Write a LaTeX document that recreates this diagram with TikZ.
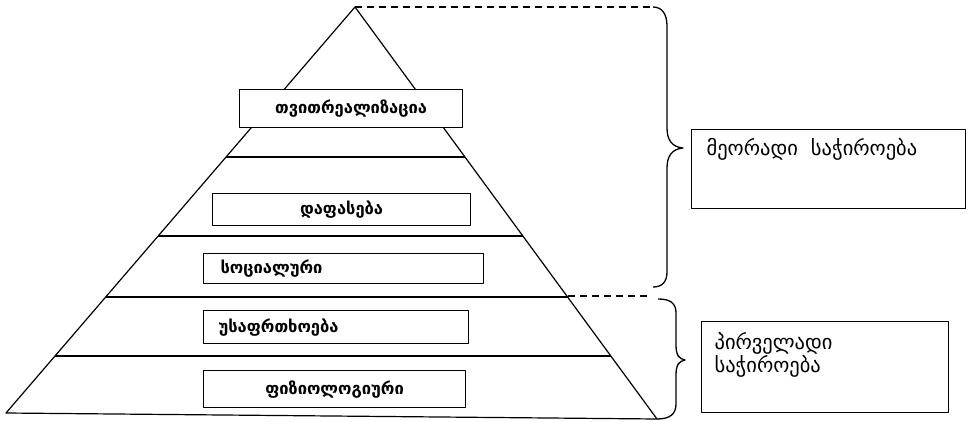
\documentclass[tikz,border=0pt]{standalone}
\usepackage{fontspec}
\newfontfamily\geo{DejaVu Sans}
\begin{document}
\begin{tikzpicture}[x=1pt,y=-1pt,
  line width=1.2pt, line join=round,
  boxin/.style={draw, rectangle, inner sep=0pt, anchor=north west},
  lbl/.style={font=\geo\bfseries\fontsize{16.5}{18}\selectfont, inner sep=0pt},
  rlbl/.style={font=\geo\fontsize{20.5}{19}\selectfont, inner sep=0pt, align=left},
  dsh/.style={dash pattern=on 7pt off 5pt, line width=1.2pt},
  brace/.style={line width=1.3pt}]
\useasboundingbox (0,0) rectangle (971,422);
% pyramid
\coordinate (apex) at (355,7);
\coordinate (bl) at (6,413);
\coordinate (br) at (657,419);
\draw (bl) -- (apex) -- (br) -- cycle;
\draw (226,157) -- (465,157);
\draw (158,236) -- (523,236);
\draw (106,297) -- (568,297);
\draw (55,356) -- (611,356);
% boxes in pyramid
\node[boxin, fill=white, minimum width=223pt, minimum height=38pt] (b1) at (239,89) {};
\node[lbl] (t1) at (b1.center) {თვითრეალიზაცია};
\node[boxin, minimum width=258pt, minimum height=32pt] (b2) at (212,193) {};
\node[lbl] (t2) at (b2.center) {დაფასება};
\node[boxin, minimum width=280pt, minimum height=30pt] (b3) at (203,253) {};
\node[lbl, anchor=west] (t3) at ([xshift=17pt]b3.west) {სოციალური};
\node[boxin, minimum width=265pt, minimum height=33pt] (b4) at (203,310) {};
\node[lbl, anchor=west] (t4) at ([xshift=15pt]b4.west) {უსაფრთხოება};
\node[boxin, minimum width=262pt, minimum height=37pt] (b5) at (203,370) {};
\node[lbl] (t5) at (b5.center) {ფიზიოლოგიური};
% dashed lines
\coordinate (d1) at (653,7);
\coordinate (m1) at (568,296);
\coordinate (m2) at (650,296);
\draw[dsh] (apex) -- (d1);
\draw[dsh] (m1) -- (m2);
% braces
\draw[brace] (d1) .. controls (662,7) and (667,14) .. (667,26) -- (667,128)
  .. controls (667,140) and (672,147) .. (683,148)
  .. controls (672,149) and (667,156) .. (667,168) -- (667,272)
  .. controls (667,282) and (662,287) .. (653,287);
\draw[brace] (658,299) .. controls (670,299) and (676,303) .. (676,313) -- (676,345)
  .. controls (676,355) and (679,359) .. (685,360)
  .. controls (679,361) and (676,365) .. (676,375) -- (676,404)
  .. controls (676,414) and (670,419) .. (br);
% right boxes
\node[boxin, minimum width=274pt, minimum height=79pt] (r1) at (691,129) {};
\node[rlbl, anchor=west] (rt1) at (706,149) {მეორადი\ \ საჭიროება};
\node[boxin, minimum width=247pt, minimum height=91pt] (r2) at (701,321) {};
\node[rlbl, anchor=north west] (rt2) at (714,332) {პირველადი\\საჭიროება};
\end{tikzpicture}
\end{document}
